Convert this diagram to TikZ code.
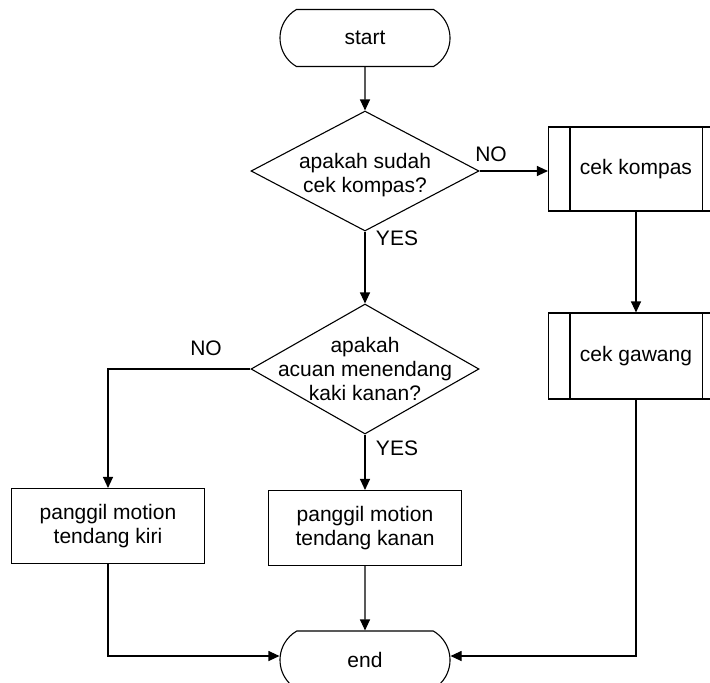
\documentclass[tikz,border=0pt]{standalone}
\usepackage{fontspec}
\setmainfont{Liberation Sans}
\usetikzlibrary{shapes.geometric,shapes.misc,arrows.meta}
\begin{document}
\begin{tikzpicture}[x=1pt,y=-1pt,
  font=\fontsize{21}{24}\selectfont,
  line width=1.1pt,
  flow/.style={-{Triangle[length=11pt,width=10pt]}},
  term/.style={draw, rounded rectangle, rounded rectangle arc length=120,
    minimum width=170pt, minimum height=#1, inner sep=0pt},
  decision/.style={draw, diamond, minimum width=228pt, minimum height=#1,
    inner sep=0pt},
  process/.style={draw, rectangle, minimum width=193pt, minimum height=75pt,
    align=center, inner sep=0pt},
  predef/.style={draw, rectangle, minimum width=175pt, minimum height=#1,
    inner sep=0pt},
  lbl/.style={inner sep=0pt}
]
\clip (0,0) rectangle (710,683);
\useasboundingbox (0,0) rectangle (710,683);

% terminators
\node[term=57pt] (start) at (365,38) {start};
\node[term=58pt] (stop) at (365,660) {end};

% decisions
\node[decision=120pt,
  label={[align=center,yshift=-4pt]center:apakah sudah\\cek kompas?}] (d1) at (365,171) {};
\node[decision=130pt,
  label={[align=center]center:apakah\\acuan menendang\\kaki kanan?}] (d2) at (365,369) {};

% predefined processes
\node[predef=84pt] (ckompas) at (636,169) {cek kompas};
\node[predef=86pt] (cgawang) at (636,356) {cek gawang};
\foreach \n in {ckompas,cgawang}{
  \draw ([xshift=22pt]\n.north west) -- ([xshift=22pt]\n.south west);
  \draw ([xshift=-22pt]\n.north east) -- ([xshift=-22pt]\n.south east);
}

% processes
\node[process] (kiri) at (108,526) {panggil motion\\tendang kiri};
\node[process] (kanan) at (365,528) {panggil motion\\tendang kanan};

% connectors
\draw[flow] (start) -- (d1);
\draw[flow] (d1.east) -- (d1.east -| ckompas.west);
\draw[flow] (ckompas) -- (cgawang);
\draw[flow] (cgawang.south) |- ([yshift=4pt]stop.east);
\draw[flow] (d1) -- (d2);
\draw[flow] (d2.west) -| (kiri.north);
\draw[flow] (d2) -- (kanan);
\draw[flow] (kanan) -- (stop);
\draw[flow] (kiri.south) |- ([yshift=4pt]stop.west);

% branch labels
\node[lbl] (no1) at (491,154) {NO};
\node[lbl] (yes1) at (397,238) {YES};
\node[lbl] (no2) at (206,348) {NO};
\node[lbl] (yes2) at (397,448) {YES};
\end{tikzpicture}
\end{document}
